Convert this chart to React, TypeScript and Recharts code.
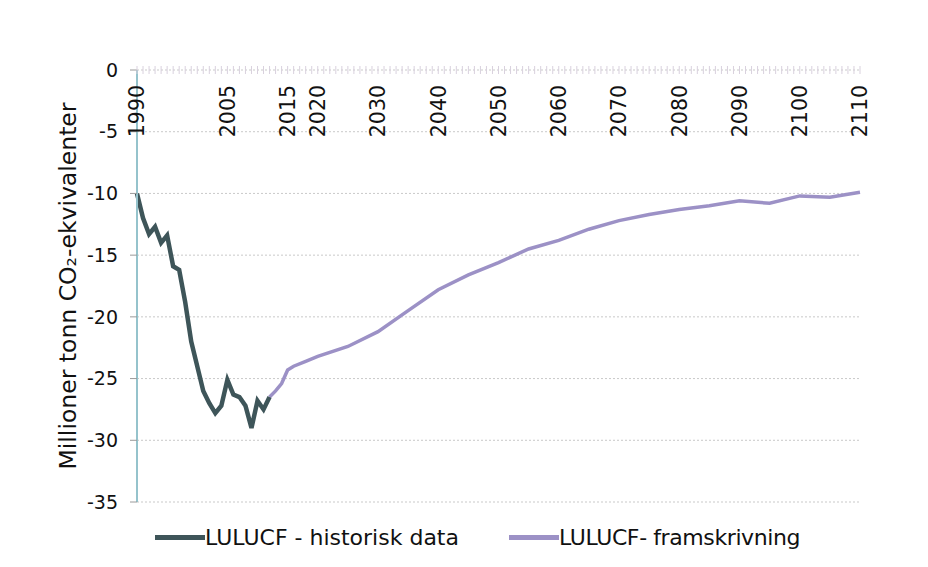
import React from 'react';
import { LineChart, Line, XAxis, YAxis, CartesianGrid, Legend } from 'recharts';

// Historisk data (1990-2012)
const histYears = [1990, 1991, 1992, 1993, 1994, 1995, 1996, 1997, 1998, 1999, 2000, 2001, 2002, 2003, 2004, 2005, 2006, 2007, 2008, 2009, 2010, 2011, 2012];
const histValues = [-10.0, -12.0, -13.3, -12.7, -14.0, -13.4, -15.9, -16.2, -18.8, -22.0, -24.0, -26.0, -27.0, -27.8, -27.2, -25.1, -26.3, -26.5, -27.2, -29.0, -26.8, -27.5, -26.5];

// Framskrivning (2012-2110)
const projYears = [2012, 2013, 2014, 2015, 2016, 2018, 2020, 2025, 2030, 2035, 2040, 2045, 2050, 2055, 2060, 2065, 2070, 2075, 2080, 2085, 2090, 2095, 2100, 2105, 2110];
const projValues = [-26.5, -26.0, -25.4, -24.3, -24.0, -23.6, -23.2, -22.4, -21.2, -19.5, -17.8, -16.6, -15.6, -14.5, -13.8, -12.9, -12.2, -11.7, -11.3, -11.0, -10.6, -10.8, -10.2, -10.3, -9.9];

const xLabelYears = [1990, 2005, 2015, 2020, 2030, 2040, 2050, 2060, 2070, 2080, 2090, 2100, 2110];
const yTicks = [0, -5, -10, -15, -20, -25, -30, -35];

const histData = histYears.map((year, i) => ({ year, value: histValues[i] }));
const projData = projYears.map((year, i) => ({ year, value: projValues[i] }));

// a small tick for every year, labels only on some
const allYears = Array.from({ length: 121 }, (_, i) => 1990 + i);

const FONT = '"DejaVu Sans", sans-serif';
const HIST_COLOR = '#3e5559';
const PROJ_COLOR = '#9c91c6';

const XTick = ({ x, y, payload }: any) => {
  const show = xLabelYears.includes(payload.value);
  const ty = y + 15;
  return (
    <g>
      <line x1={x} x2={x} y1={y - 4} y2={y + 4} stroke="#d9d1de" strokeWidth={1} />
      {show && (
        <text
          x={x}
          y={ty}
          transform={`rotate(-90, ${x}, ${ty})`}
          textAnchor="end"
          dy="0.36em"
          fontSize={20.5}
          fontFamily={FONT}
          fill="#111"
        >
          {payload.value}
        </text>
      )}
    </g>
  );
};

const YLabel = ({ viewBox }: any) => {
  const cx = 60;
  const cy = viewBox.y + viewBox.height / 2;
  return (
    <text
      x={cx}
      y={cy}
      transform={`rotate(-90, ${cx}, ${cy})`}
      textAnchor="middle"
      dy="0.36em"
      fontSize={23.5}
      fontFamily={FONT}
      fill="#111"
    >
      Millioner tonn CO₂-ekvivalenter
    </text>
  );
};

const LegendContent = () => (
  <div style={{ display: 'flex', justifyContent: 'flex-start', height: 30, alignItems: 'center', fontFamily: FONT, fontSize: 22, color: '#111' }}>
    <div style={{ display: 'flex', alignItems: 'center', marginLeft: 147 }}>
      <span style={{ display: 'inline-block', width: 50, height: 5, background: HIST_COLOR }} />
      <span>LULUCF - historisk data</span>
    </div>
    <div style={{ display: 'flex', alignItems: 'center', marginLeft: 50 }}>
      <span style={{ display: 'inline-block', width: 50, height: 5, background: PROJ_COLOR }} />
      <span style={{ letterSpacing: -0.4 }}>LULUCF- framskrivning</span>
    </div>
  </div>
);

const App = () => {
  return (
    <div style={{ width: 912, height: 552 }}>
      <LineChart width={912} height={552} margin={{ top: 61, right: 60, bottom: 28, left: 0 }}>
        <CartesianGrid vertical={false} stroke="#c9c9c9" strokeDasharray="2 2" />
        <XAxis
          type="number"
          dataKey="year"
          orientation="top"
          domain={[1990, 2110]}
          ticks={allYears}
          interval={0}
          height={1}
          tickSize={0}
          tickMargin={0}
          tickLine={false}
          axisLine={false}
          tick={<XTick />}
        />
        <YAxis
          type="number"
          domain={[-35, 0]}
          ticks={yTicks}
          width={129}
          tickSize={7}
          tickMargin={12}
          axisLine={{ stroke: '#95c3cc', strokeWidth: 2 }}
          tickLine={{ stroke: '#9a9a9a' }}
          tick={{ fontSize: 19, fontFamily: FONT, fill: '#111' }}
          label={<YLabel />}
        />
        <Legend
          content={<LegendContent />}
          wrapperStyle={{ top: 514, left: 0, width: 912, height: 30 }}
        />
        <Line data={projData} dataKey="value" type="linear" stroke={PROJ_COLOR} strokeWidth={3.5} dot={false} isAnimationActive={false} name="LULUCF- framskrivning" />
        <Line data={histData} dataKey="value" type="linear" stroke={HIST_COLOR} strokeWidth={4.5} dot={false} isAnimationActive={false} name="LULUCF - historisk data" />
      </LineChart>
    </div>
  );
};

export default App;
